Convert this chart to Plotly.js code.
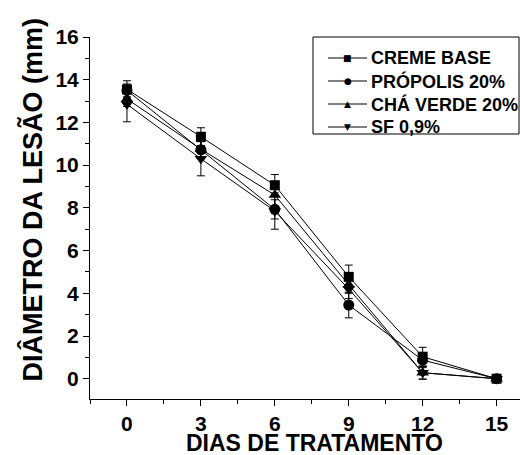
<!DOCTYPE html>
<html>
<head>
<meta charset="utf-8">
<script src="https://cdn.plot.ly/plotly-3.0.1.min.js"></script>
<style>
  html, body { margin: 0; padding: 0; background: #fff; }
  #chart { width: 520px; height: 455px; }
</style>
</head>
<body>
<div id="chart"></div>
<script>
// ---- data ----
const days = [0, 3, 6, 9, 12, 15];
const xTickLabels = ['0', '3', '6', '9', '12', '15'];
const seriesNames = ['CREME BASE', 'PRÓPOLIS 20%', 'CHÁ VERDE 20%', 'SF 0,9%'];
const cremeBase    = [13.55, 11.33, 9.06, 4.77, 1.03, 0.0];
const cremeBaseErr = [0.40, 0.42, 0.50, 0.55, 0.44, 0.0];
const propolis     = [13.50, 10.72, 7.93, 3.45, 0.87, 0.0];
const propolisErr  = [0.30, 0.40, 0.45, 0.60, 0.35, 0.0];
const chaVerde     = [13.10, 10.75, 8.60, 4.40, 0.28, 0.0];
const chaVerdeErr  = [0.35, 0.45, 0.50, 0.40, 0.30, 0.0];
const sf           = [12.85, 10.30, 7.85, 4.20, 0.28, 0.0];
const sfErr        = [0.82, 0.80, 0.85, 0.45, 0.30, 0.0];

// ---- styling ----
const FONT = 'Liberation Sans, Arial, sans-serif';
const symbols = ['square', 'circle', 'triangle-up', 'triangle-down'];
const legendGlyphs = ['■', '●', '▲', '▼'];
const values = [cremeBase, propolis, chaVerde, sf];
const errors = [cremeBaseErr, propolisErr, chaVerdeErr, sfErr];

const W = 520, H = 455;
const M = { l: 90, r: 0, t: 37, b: 56 };
const plotW = W - M.l - M.r, plotH = H - M.t - M.b;
const px2x = p => (p - M.l) / plotW;
const px2y = p => (H - M.b - p) / plotH;

const traces = values.map((v, i) => ({
  x: days, y: v, name: seriesNames[i], type: 'scatter', mode: 'lines+markers',
  line: { color: '#000', width: 1 },
  marker: { symbol: symbols[i], size: i === 0 ? 10 : 11, color: '#000' },
  error_y: { type: 'data', array: errors[i], visible: true, color: '#000', thickness: 1, width: 4 },
  showlegend: false, cliponaxis: false
}));

// custom legend (box + glyph lines + glyph markers + text)
const shapes = [{
  type: 'rect', xref: 'paper', yref: 'paper',
  x0: px2x(313), x1: px2x(519), y0: px2y(134), y1: px2y(37),
  line: { color: '#000', width: 1 }, fillcolor: 'rgba(0,0,0,0)'
}];
const annotations = [];
const rowY = [58, 81, 104, 127];
seriesNames.forEach((n, i) => {
  shapes.push({ type: 'line', xref: 'paper', yref: 'paper',
    x0: px2x(328), x1: px2x(367), y0: px2y(rowY[i]), y1: px2y(rowY[i]),
    line: { color: '#000', width: 1 } });
  annotations.push({ xref: 'paper', yref: 'paper', x: px2x(347.5), y: px2y(rowY[i]),
    text: legendGlyphs[i], showarrow: false, xanchor: 'center', yanchor: 'middle',
    font: { family: 'DejaVu Sans', size: 9, color: '#000' } });
  annotations.push({ xref: 'paper', yref: 'paper', x: px2x(369), y: px2y(rowY[i]),
    text: n, showarrow: false, xanchor: 'left', yanchor: 'middle',
    font: { family: FONT, size: 18, color: '#000', weight: 700 } });
});
// axis titles
annotations.push({ xref: 'paper', yref: 'paper', x: px2x(314), y: px2y(443),
  text: 'DIAS DE TRATAMENTO', showarrow: false, xanchor: 'center', yanchor: 'middle',
  font: { family: FONT, size: 23, color: '#000', weight: 700 } });
annotations.push({ xref: 'paper', yref: 'paper', x: px2x(32), y: px2y(199.5),
  text: 'DIÂMETRO DA LESÃO (mm)', textangle: -90, showarrow: false,
  xanchor: 'center', yanchor: 'middle',
  font: { family: FONT, size: 27, color: '#000', weight: 700 } });

const layout = {
  width: W, height: H, margin: M,
  paper_bgcolor: '#fff', plot_bgcolor: '#fff',
  showlegend: false,
  font: { family: FONT, color: '#000' },
  xaxis: {
    range: [-1.5, 15.95], tickmode: 'array', tickvals: days, ticktext: xTickLabels,
    ticks: 'outside', ticklen: 6, tickwidth: 1, tickcolor: '#000',
    minor: { dtick: 1.5, tick0: 0, ticks: 'outside', ticklen: 4, tickcolor: '#000', tickwidth: 1 },
    showline: true, linecolor: '#000', linewidth: 1, showgrid: false, zeroline: false,
    tickfont: { family: FONT, size: 21, color: '#000', weight: 700 }
  },
  yaxis: {
    range: [-0.95, 16], dtick: 2, tick0: 0,
    ticks: 'outside', ticklen: 6, tickwidth: 1, tickcolor: '#000',
    minor: { dtick: 1, tick0: 0, ticks: 'outside', ticklen: 4, tickcolor: '#000', tickwidth: 1 },
    showline: true, linecolor: '#000', linewidth: 1, showgrid: false, zeroline: false,
    tickfont: { family: FONT, size: 21, color: '#000', weight: 700 }
  },
  shapes: shapes,
  annotations: annotations
};

Plotly.newPlot('chart', traces, layout, { displayModeBar: false, staticPlot: true });
</script>
</body>
</html>
